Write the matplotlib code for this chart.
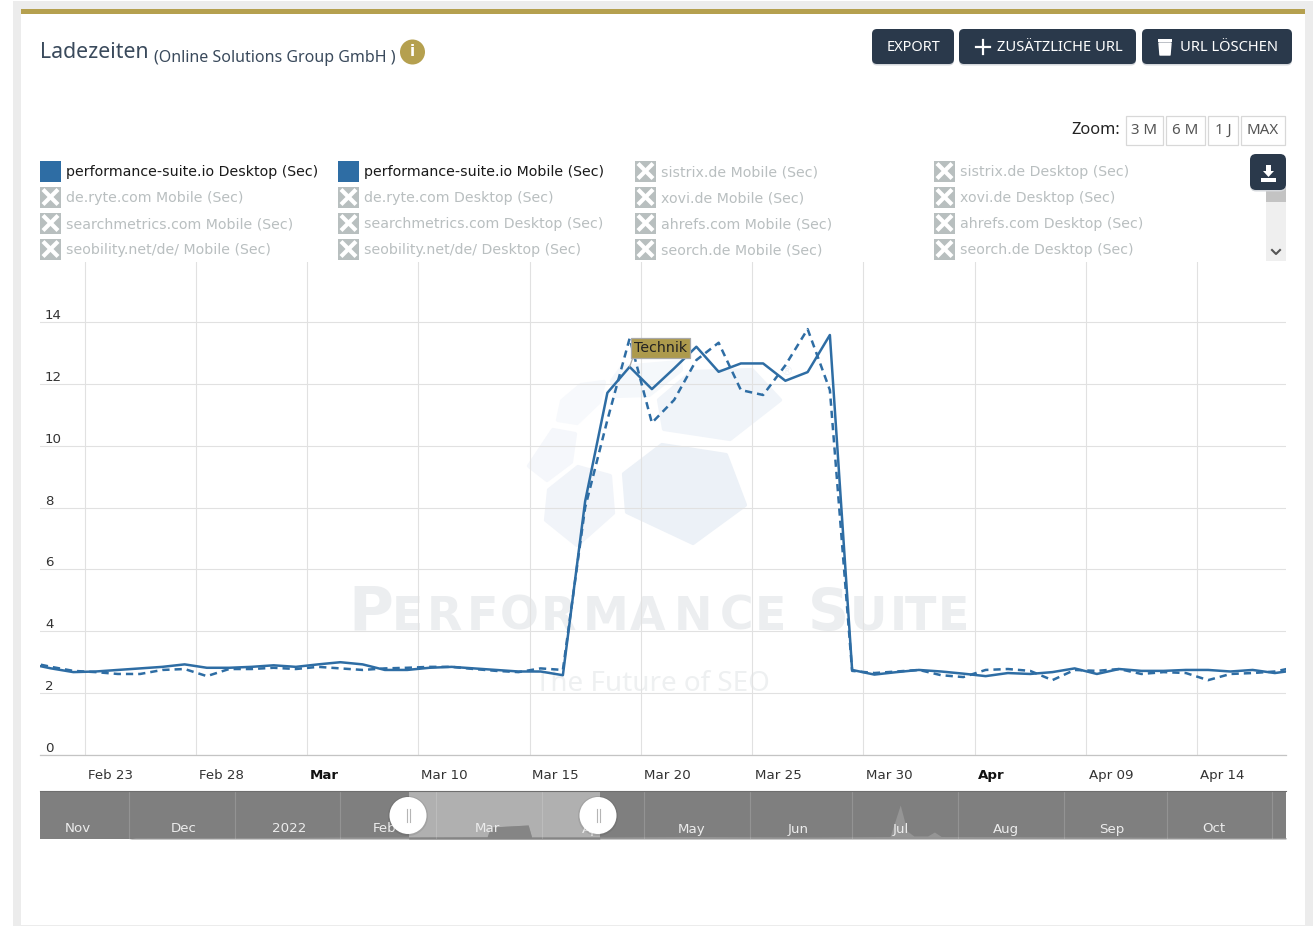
import matplotlib
matplotlib.use("Agg")
import matplotlib.pyplot as plt
import pandas as pd
from matplotlib.patches import Rectangle, FancyBboxPatch, Polygon, Circle
from matplotlib.transforms import ScaledTranslation

W, H = 1313, 926

# main chart data, one point per day at noon
dates = pd.date_range("2022-02-20 12:00", periods=58, freq="D")
desktop = [2.95, 2.8, 2.68, 2.7, 2.75, 2.8, 2.85, 2.93, 2.82,
           2.82, 2.85, 2.9, 2.85, 2.93, 3.0, 2.93, 2.75, 2.75, 2.82, 2.85, 2.8, 2.75, 2.7, 2.7, 2.58,
           8.2, 11.71, 12.55, 11.83, 12.5, 13.2, 12.39, 12.66, 12.66, 12.1, 12.38, 13.58, 2.75, 2.6, 2.68,
           2.75, 2.7, 2.63, 2.55, 2.65, 2.62, 2.68, 2.8, 2.62, 2.78, 2.72, 2.72, 2.75, 2.75, 2.7, 2.75, 2.65, 2.75]
mobile = [3.0, 2.85, 2.72, 2.68, 2.62, 2.62, 2.75, 2.78, 2.55,
          2.78, 2.78, 2.82, 2.78, 2.85, 2.8, 2.75, 2.8, 2.82, 2.85, 2.85, 2.78, 2.72, 2.68, 2.8, 2.75,
          8.0, 10.83, 13.47, 10.74, 11.48, 12.77, 13.33, 11.8, 11.64, 12.6, 13.77, 11.8, 2.72, 2.65, 2.7,
          2.75, 2.58, 2.52, 2.75, 2.78, 2.72, 2.42, 2.75, 2.72, 2.78, 2.62, 2.68, 2.65, 2.42, 2.62, 2.65, 2.7, 2.85]

tick_dates = ["2022-02-23", "2022-02-28", "2022-03-05", "2022-03-10", "2022-03-15", "2022-03-20",
              "2022-03-25", "2022-03-30", "2022-04-04", "2022-04-09", "2022-04-14"]
tick_labels = ["Feb 23", "Feb 28", "Mar", "Mar 10", "Mar 15", "Mar 20", "Mar 25", "Mar 30", "Apr", "Apr 09", "Apr 14"]
y_ticks = [0, 2, 4, 6, 8, 10, 12, 14]

# navigator series over the whole year
nav_dates = ["2021-11-05", "2021-12-01", "2021-12-03", "2022-01-15", "2022-02-01", "2022-02-21", "2022-03-16",
             "2022-03-17", "2022-03-20", "2022-03-28", "2022-03-29", "2022-04-18", "2022-05-15", "2022-06-20",
             "2022-07-12", "2022-07-15", "2022-07-17", "2022-07-19", "2022-07-23", "2022-07-25", "2022-07-27",
             "2022-09-15", "2022-10-15", "2022-11-05"]
nav_values = [0, 0, 1.2, 1.5, 2, 2, 2.2, 12, 12.5, 14, 2, 2, 2.5, 2, 2.5, 34, 8, 3, 3, 7, 2.5, 2, 1.5, 1.5]
nav_ticks = ["2021-12-01", "2022-01-01", "2022-02-01", "2022-03-01", "2022-04-01", "2022-05-01", "2022-06-01",
             "2022-07-01", "2022-08-01", "2022-09-01", "2022-10-01", "2022-11-01"]
nav_label_dates = ["2021-11-16", "2021-12-17", "2022-01-17", "2022-02-14", "2022-03-16", "2022-04-16",
                   "2022-05-15", "2022-06-15", "2022-07-15", "2022-08-15", "2022-09-15", "2022-10-15"]
nav_labels = ["Nov", "Dec", "2022", "Feb", "Mar", "Apr", "May", "Jun", "Jul", "Aug", "Sep", "Oct"]

legend_cols = [
    ["performance-suite.io Desktop (Sec)", "de.ryte.com Mobile (Sec)", "searchmetrics.com Mobile (Sec)", "seobility.net/de/ Mobile (Sec)"],
    ["performance-suite.io Mobile (Sec)", "de.ryte.com Desktop (Sec)", "searchmetrics.com Desktop (Sec)", "seobility.net/de/ Desktop (Sec)"],
    ["sistrix.de Mobile (Sec)", "xovi.de Mobile (Sec)", "ahrefs.com Mobile (Sec)", "seorch.de Mobile (Sec)"],
    ["sistrix.de Desktop (Sec)", "xovi.de Desktop (Sec)", "ahrefs.com Desktop (Sec)", "seorch.de Desktop (Sec)"],
]
legend_x = [40, 338, 635, 934]
legend_y = [171, 197, 223, 249]

BLUE = "#2e6da4"
DARK = "#2a394b"
GOLD = "#b5a04f"
UI_FONT = "Noto Sans"


def px_axes(fig, left, top, right, bottom, zorder):
    return fig.add_axes([left / W, 1 - bottom / H, (right - left) / W, (bottom - top) / H], zorder=zorder)


fig = plt.figure(figsize=(W / 100, H / 100), dpi=100, facecolor="white")

# page furniture, in pixel coordinates
ui = px_axes(fig, 0, 0, W, H, 0)
ui.set_xlim(0, W)
ui.set_ylim(H, 0)
ui.axis("off")

ui.add_patch(Rectangle((13, 1), 8, H, color="#ececec", lw=0))
ui.add_patch(Rectangle((1305, 1), 8, H, color="#ececec", lw=0))
ui.add_patch(Rectangle((13, 1), 1300, 8, color="#ececec", lw=0))
ui.add_patch(Rectangle((13, 925), 1300, 1, color="#ececec", lw=0))
ui.add_patch(Rectangle((21, 9), 1284, 5, color=GOLD, lw=0))

ui.text(40, 52, "Ladezeiten", fontsize=15.3, family=UI_FONT, color="#3a4a5c", va="center")
ui.text(154, 57.5, "(Online Solutions Group GmbH )", fontsize=11.5, family=UI_FONT, color="#3a4a5c", va="center")
ui.add_patch(Circle((412.5, 52), 12.5, color=GOLD, lw=0))
ui.text(412.5, 52, "i", fontsize=11, family="DejaVu Sans", weight="bold", color="white", ha="center", va="center")


def button(x0, x1, y0, y1, radius=5):
    ui.add_patch(FancyBboxPatch((x0, y0 + 1.5), x1 - x0, y1 - y0, boxstyle=f"round,pad=0,rounding_size={radius}",
                                fc="#d5d8dc", ec="none"))
    ui.add_patch(FancyBboxPatch((x0, y0), x1 - x0, y1 - y0, boxstyle=f"round,pad=0,rounding_size={radius}",
                                fc=DARK, ec="none"))


button(872, 954, 29, 64)
button(959, 1136, 29, 64)
button(1142, 1292, 29, 64)
ui.text(913, 47.5, "EXPORT", fontsize=10.5, family=UI_FONT, weight="medium", color="white", ha="center", va="center")
ui.plot([976, 990], [47, 47], color="white", lw=1.6)
ui.plot([983, 983], [40, 54], color="white", lw=1.6)
ui.text(997, 47.5, "ZUSÄTZLICHE URL", fontsize=10.6, family=UI_FONT, weight="medium", color="white", va="center")
ui.add_patch(Polygon([(1159, 43), (1171, 43), (1170, 55), (1160, 55)], closed=True, fc="white", ec="white", lw=1, joinstyle="round"))
ui.add_patch(Rectangle((1158, 38.5), 14, 3, color="white", lw=0))
ui.text(1180, 47.5, "URL LÖSCHEN", fontsize=10.6, family=UI_FONT, weight="medium", color="white", va="center")

ui.text(1120, 130.5, "Zoom:", fontsize=11.8, family=UI_FONT, weight="medium", color="#222222", ha="right", va="center")
for label, x0, x1 in [("3 M", 1126, 1163), ("6 M", 1166, 1205), ("1 J", 1208, 1238), ("MAX", 1241, 1285)]:
    ui.add_patch(Rectangle((x0, 115.5), x1 - x0, 29, fc="white", ec="#d8d8d8", lw=0.9))
    ui.text((x0 + x1) / 2, 130.5, label, fontsize=10.8, family=UI_FONT, color="#555555", ha="center", va="center")

# legend rows
for col, x in zip(legend_cols, legend_x):
    for label, y in zip(col, legend_y):
        active = label.startswith("performance-suite")
        if active:
            ui.add_patch(Rectangle((x, y - 10.5), 21, 21, color=BLUE, lw=0))
        else:
            ui.add_patch(Rectangle((x, y - 10.5), 21, 21, color="#b8bfbf", lw=0))
            ui.plot([x + 3, x + 18], [y - 7.5, y + 7.5], color="white", lw=3, solid_capstyle="butt")
            ui.plot([x + 3, x + 18], [y + 7.5, y - 7.5], color="white", lw=3, solid_capstyle="butt")
        ui.text(x + 26, y + 5, label, fontsize=10.2, color="#1a1a1a" if active else "#b9bfc0", va="baseline")

# legend scrollbar and download button
ui.add_patch(Rectangle((1266, 185), 20, 76, color="#efefef", lw=0))
ui.add_patch(Rectangle((1266, 185), 20, 17, color="#c3c3c3", lw=0))
ui.plot([1272, 1276, 1280], [250, 254, 250], color="#555555", lw=1.5)
button(1250, 1286, 154, 190, radius=6)
ui.add_patch(Polygon([(1266, 165), (1271, 165), (1271, 171), (1274, 171), (1268.5, 177), (1263, 171), (1266, 171)], closed=True, fc="white", ec="none"))
ui.add_patch(Rectangle((1261, 178), 15, 4, color="white", lw=0))

# watermark behind the chart
shapes = [
    ([(624, 474), (662, 445), (726, 455), (745, 505), (693, 543), (627, 512)], "#ecf1f7"),
    ([(659, 400), (692, 372), (752, 370), (780, 400), (730, 439), (664, 429)], "#f0f4f9"),
    ([(549, 490), (578, 467), (610, 476), (613, 513), (577, 545), (546, 520)], "#f1f4f9"),
    ([(529, 466), (553, 430), (575, 434), (571, 462), (547, 480)], "#f5f7fb"),
    ([(558, 420), (562, 401), (581, 385), (604, 382), (599, 402), (577, 423)], "#f7f9fc"),
    ([(612, 381), (622, 367), (680, 362), (681, 370), (649, 395), (615, 396)], "#f5f8fb"),
]
for pts, color in shapes:
    ui.add_patch(Polygon(pts, closed=True, fc=color, ec=color, lw=3, joinstyle="round"))
wm = "#eceef0"
ui.text(348, 630, "P", fontsize=44, family="DejaVu Sans", weight="bold", color=wm, va="baseline")
ui.text(808, 630, "S", fontsize=41, family="DejaVu Sans", weight="bold", color=wm, va="baseline")
for letter, x in zip("ERFORMANCEUITE", [392, 427, 467, 500, 541, 583, 630, 674, 720, 755, 850, 890, 905, 938]):
    ui.text(x, 630, letter, fontsize=33, family="DejaVu Sans", weight="bold", color=wm, va="baseline")
ui.text(535, 684, "The Future of SEO", fontsize=20, family=UI_FONT, color="#eef0f1", va="center")
ui.text(786, 372, "®", fontsize=9, color="#eef1f6", ha="center", va="center")

# main chart
ax = px_axes(fig, 40, 262, 1286, 755, 1)
ax.patch.set_visible(False)
ax.plot(dates, desktop, color=BLUE, lw=1.8)
ax.plot(dates, mobile, color=BLUE, lw=1.8, dashes=(2.9, 2.0))
ax.set_xlim(pd.Timestamp("2022-02-21"), pd.Timestamp("2022-04-18"))
ax.set_ylim(0, 15.94)
ax.set_yticks(y_ticks)
ax.set_xticks(pd.to_datetime(tick_dates))
ax.set_xticklabels(tick_labels, ha="left", fontsize=9.6, color="#333333")
ax.tick_params(axis="x", length=0, pad=10)
ax.tick_params(axis="y", length=0, pad=-3.6, labelsize=9.6, labelcolor="#333333")
for t in ax.get_yticklabels():
    t.set_ha("left")
    t.set_va("bottom")
for t in ax.get_xticklabels():
    if t.get_text() in ("Mar", "Apr"):
        t.set_fontweight("bold")
        t.set_color("#111111")
    # tick labels sit right of their grid line
    t.set_transform(t.get_transform() + ScaledTranslation(3 / 100, 0, fig.dpi_scale_trans))
ax.grid(True, color="#e1e1e1", lw=0.8)
ax.set_axisbelow(True)
for side in ("top", "left", "right"):
    ax.spines[side].set_visible(False)
ax.spines["bottom"].set_color("#c4c4c4")
ax.spines["bottom"].set_linewidth(0.9)

# flag on the desktop value of Mar 19
flag_x = pd.Timestamp("2022-03-19 12:00")
ax.annotate("Technik", xy=(flag_x, 12.55), xytext=(3.0, 8.6), textcoords="offset points",
            fontsize=10.2, color="#222222", ha="left", va="bottom",
            bbox=dict(boxstyle="square,pad=0.2", fc="#ad9a4c", ec="#a9a9a9", lw=0.9),
            arrowprops=dict(arrowstyle="-", color="#a9a9a9", lw=0.9, shrinkA=0, shrinkB=0,
                            relpos=(0, 0)))

# navigator
nav = px_axes(fig, 40, 791, 1286, 839, 1)
nav_x = pd.to_datetime(nav_dates)
nav.set_facecolor("#7f7f7f")
sel0, sel1 = pd.Timestamp("2022-02-21"), pd.Timestamp("2022-04-18")
nav.axvspan(sel0, sel1, color="#b0b0b0", lw=0)
nav.fill_between(nav_x, nav_values, color="#959595", lw=0)
inside = (nav_x >= sel0) & (nav_x <= sel1)
nav.fill_between(nav_x[inside], [v for v, k in zip(nav_values, inside) if k], color="#858585", lw=0)
nav.set_xlim(pd.Timestamp("2021-11-05"), pd.Timestamp("2022-11-05"))
nav.set_ylim(0, 48)
for d in nav_ticks:
    nav.axvline(pd.Timestamp(d), color="white", alpha=0.16, lw=0.8)
for d, label in zip(nav_label_dates, nav_labels):
    nav.text(pd.Timestamp(d), 10, label, fontsize=9.6, color="#ececec", ha="center", va="center")
nav.set_xticks([])
nav.set_yticks([])
for s in nav.spines.values():
    s.set_visible(False)
nav.spines["top"].set_visible(True)
nav.spines["top"].set_color("#6e6e6e")

# navigator handles on top of everything
top = px_axes(fig, 0, 0, W, H, 3)
top.set_xlim(0, W)
top.set_ylim(H, 0)
top.axis("off")
for x in (408, 598):
    top.add_patch(Circle((x, 816), 20, color="#000000", alpha=0.08, lw=0))
    top.add_patch(Circle((x, 815.5), 18.5, color="white", lw=0))
    top.plot([x - 1.5, x - 1.5], [809, 822], color="#b5b5b5", lw=0.8)
    top.plot([x + 1.5, x + 1.5], [809, 822], color="#b5b5b5", lw=0.8)

fig.savefig("out.png", dpi=100)
